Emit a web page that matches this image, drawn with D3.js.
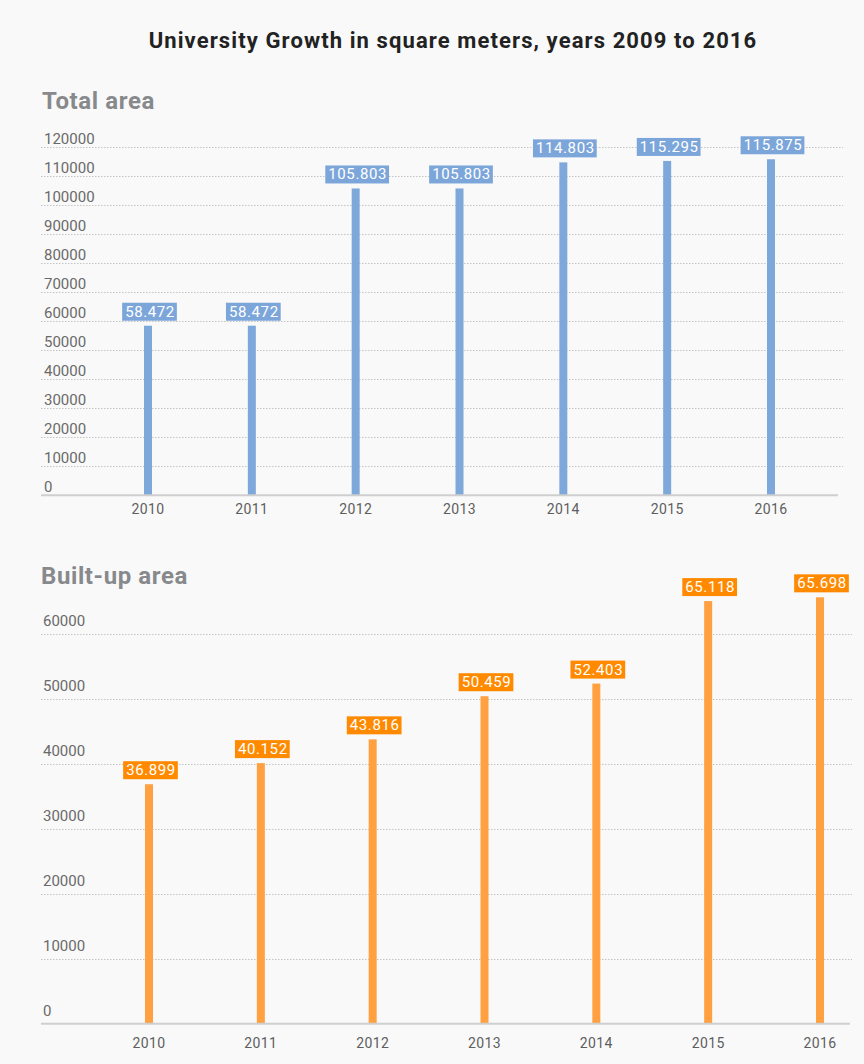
<!DOCTYPE html>
<html>
<head>
<meta charset="utf-8">
<script src="https://cdn.jsdelivr.net/npm/d3@7"></script>
<style>
  html, body { margin: 0; padding: 0; background: #f9f9f9; }
  svg { display: block; font-family: Roboto, "Noto Sans", sans-serif; }
</style>
</head>
<body>
<svg id="chart" width="864" height="1064"></svg>
<script>
// ---- data ----
const years = ["2010", "2011", "2012", "2013", "2014", "2015", "2016"];
const totalArea = [58472, 58472, 105803, 105803, 114803, 115295, 115875];
const builtUpArea = [36899, 40152, 43816, 50459, 52403, 65118, 65698];
const totalTicks = [0, 10000, 20000, 30000, 40000, 50000, 60000, 70000, 80000, 90000, 100000, 110000, 120000];
const builtTicks = [0, 10000, 20000, 30000, 40000, 50000, 60000];
const chartTitle = "University Growth in square meters, years 2009 to 2016";
const panelTitles = ["Total area", "Built-up area"];

const fmt = d3.formatLocale({decimal: ",", thousands: ".", grouping: [3], currency: ["", ""]}).format(",");

const svg = d3.select("#chart");
svg.append("rect").attr("width", 864).attr("height", 1064).attr("fill", "#f9f9f9");

svg.append("text")
  .attr("x", 453).attr("y", 48)
  .attr("text-anchor", "middle")
  .attr("font-size", 22).attr("font-weight", 700).attr("fill", "#222")
  .attr("letter-spacing", 1.1)
  .text(chartTitle);

function panel(cfg) {
  const g = svg.append("g");
  g.append("text")
    .attr("x", cfg.titleX).attr("y", cfg.titleY)
    .attr("font-size", 24).attr("font-weight", 700).attr("fill", "#88898c")
    .attr("letter-spacing", 0.6)
    .text(cfg.title);

  const y = d3.scaleLinear().domain([0, d3.max(cfg.ticks)]).range(cfg.yRange);
  const x = d3.scalePoint().domain(years).range(cfg.xRange);

  // gridlines + tick labels
  const grid = g.append("g").selectAll("g").data(cfg.ticks).join("g");
  grid.filter(d => d !== 0).append("line")
    .attr("x1", cfg.gridX[0]).attr("x2", cfg.gridX[1])
    .attr("y1", d => Math.round(y(d)) + 0.5).attr("y2", d => Math.round(y(d)) + 0.5)
    .attr("stroke", "#c4c4c4").attr("stroke-width", 1).attr("stroke-dasharray", "1.5,1.5");
  grid.append("text")
    .attr("x", cfg.tickX)
    .attr("y", d => y(d) - cfg.tickLift)
    .attr("font-size", 15).attr("fill", "#6a6a6a")
    .text(d => d);

  // bars
  g.append("g").selectAll("rect").data(cfg.values).join("rect")
    .attr("x", (d, i) => x(years[i]) - 4)
    .attr("width", 8)
    .attr("y", d => y(d))
    .attr("height", d => y(0) - y(d))
    .attr("fill", cfg.barColor);

  // baseline
  g.append("line")
    .attr("x1", cfg.gridX[0]).attr("x2", cfg.baseEnd)
    .attr("y1", y(0)).attr("y2", y(0))
    .attr("stroke", "#cfcfcf").attr("stroke-width", 2);

  // x labels
  g.append("g").selectAll("text").data(years).join("text")
    .attr("x", d => x(d))
    .attr("y", cfg.xLabelY)
    .attr("text-anchor", "middle")
    .attr("font-size", 14).attr("fill", "#5e5e5e")
    .attr("letter-spacing", 0.4)
    .text(d => d);

  // value labels
  const lab = g.append("g").selectAll("g").data(cfg.values).join("g")
    .attr("transform", (d, i) => `translate(${x(years[i]) + 2},${y(d) - 5})`);
  const txt = lab.append("text")
    .attr("x", 0).attr("y", -4)
    .attr("text-anchor", "middle")
    .attr("font-size", 15).attr("fill", "#fff")
    .attr("letter-spacing", 0.6)
    .text(d => fmt(d));
  txt.each(function () {
    const bb = this.getBBox();
    d3.select(this.parentNode).insert("rect", "text")
      .attr("x", bb.x - 3).attr("y", -18)
      .attr("width", bb.width + 5).attr("height", 18)
      .attr("fill", cfg.boxColor);
  });
}

panel({
  title: panelTitles[0], titleX: 42, titleY: 109,
  ticks: totalTicks, values: totalArea,
  yRange: [495.3, 147.3], xRange: [148, 771],
  gridX: [41, 843], baseEnd: 838, tickX: 44, tickLift: 3.5,
  xLabelY: 514, barColor: "#7ea7da", boxColor: "#7ca6da"
});

panel({
  title: panelTitles[1], titleX: 41, titleY: 584,
  ticks: builtTicks, values: builtUpArea,
  yRange: [1023.7, 634.3], xRange: [149, 820],
  gridX: [41, 852], baseEnd: 850, tickX: 43, tickLift: 8,
  xLabelY: 1048, barColor: "#ffa041", boxColor: "#ff8a00"
});
</script>
</body>
</html>
